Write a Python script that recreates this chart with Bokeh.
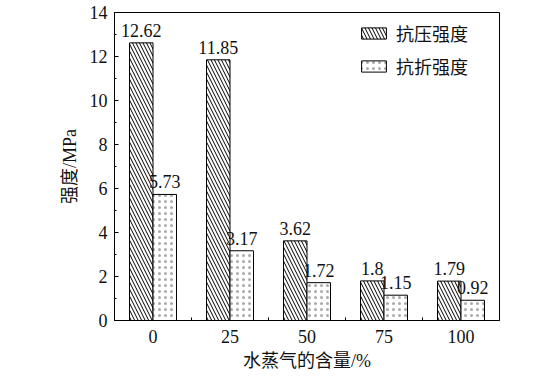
from bokeh.plotting import figure
from bokeh.models import ColumnDataSource, FixedTicker, Legend, LegendItem, Range1d
from bokeh.embed import file_html
from bokeh.resources import INLINE
from bokeh.core.properties import value

categories = ["0", "25", "50", "75", "100"]
compressive = [12.62, 11.85, 3.62, 1.8, 1.79]
flexural = [5.73, 3.17, 1.72, 1.15, 0.92]
y_ticks = [0, 2, 4, 6, 8, 10, 12, 14]
series_names = ["抗压强度", "抗折强度"]

SERIF = "Liberation Serif"
MIX = "Liberation Serif, Noto Sans CJK SC"

idx = list(range(len(categories)))
bw = 0.305
src = ColumnDataSource(dict(
    x1=[i - bw / 2 for i in idx],
    x2=[i + bw / 2 for i in idx],
    c=compressive,
    f=flexural,
    cl=[str(v) for v in compressive],
    fl=[str(v) for v in flexural],
))

p = figure(width=560, height=376, output_backend="svg", toolbar_location=None,
           x_range=Range1d(-0.5, len(categories) - 0.5), y_range=Range1d(0, 14))
p.min_border_left = 114
p.min_border_right = 61
p.min_border_top = 12
p.min_border_bottom = 56
p.outline_line_color = "black"
p.outline_line_width = 1
p.xgrid.visible = False
p.ygrid.visible = False

r1 = p.vbar(x="x1", top="c", width=bw, source=src, fill_color="white",
            line_color="black", line_width=1, hatch_pattern="\\",
            hatch_color="black", hatch_scale=7, hatch_weight=1)
r2 = p.vbar(x="x2", top="f", width=bw, source=src, fill_color="white",
            line_color="black", line_width=1, hatch_pattern=".",
            hatch_color="#aaaaaa", hatch_scale=6, hatch_weight=0.3)

for xcol, ycol, tcol in [("x1", "c", "cl"), ("x2", "f", "fl")]:
    p.text(x=xcol, y=ycol, text=tcol, source=src, text_align="center",
           text_baseline="bottom", y_offset=-6, text_font=value(SERIF),
           text_font_size="18px", text_color="#111111")

# axes
xa = p.xaxis[0]
xa.ticker = FixedTicker(ticks=idx, minor_ticks=[i + 0.5 for i in idx[:-1]])
xa.major_label_overrides = {i: c for i, c in zip(idx, categories)}
xa.major_tick_in = 0
xa.major_tick_out = 0
xa.minor_tick_in = 3
xa.minor_tick_out = 0
xa.major_label_standoff = 9
xa.axis_label = "水蒸气的含量/%"
xa.axis_label_standoff = 5
xa.axis_label_text_line_height = 0.9

ya = p.yaxis[0]
ya.ticker = FixedTicker(ticks=y_ticks, minor_ticks=[t + 1 for t in y_ticks[:-1]])
ya.major_tick_in = 4
ya.major_tick_out = 0
ya.minor_tick_in = 2
ya.minor_tick_out = 0
ya.major_label_standoff = 7
ya.axis_label = "强度/MPa"
ya.axis_label_standoff = 7

for ax in (xa, ya):
    ax.axis_line_color = "black"
    ax.major_tick_line_color = "black"
    ax.minor_tick_line_color = "black"
    ax.major_label_text_font = SERIF
    ax.major_label_text_font_size = "18px"
    ax.major_label_text_color = "#111111"
    ax.axis_label_text_font = MIX
    ax.axis_label_text_font_size = "18px"
    ax.axis_label_text_font_style = "normal"
    ax.axis_label_text_color = "#111111"

legend = Legend(items=[LegendItem(label=series_names[0], renderers=[r1]),
                       LegendItem(label=series_names[1], renderers=[r2])],
                location=(244, 241))
legend.border_line_color = None
legend.background_fill_alpha = 0
legend.glyph_width = 31
legend.glyph_height = 14
legend.label_height = 20
legend.spacing = 7
legend.label_standoff = 7
legend.margin = 0
legend.padding = 4
legend.label_text_font = MIX
legend.label_text_font_size = "18px"
legend.label_text_color = "#111111"
p.add_layout(legend)

open("out.html", "w").write(file_html(p, INLINE))
